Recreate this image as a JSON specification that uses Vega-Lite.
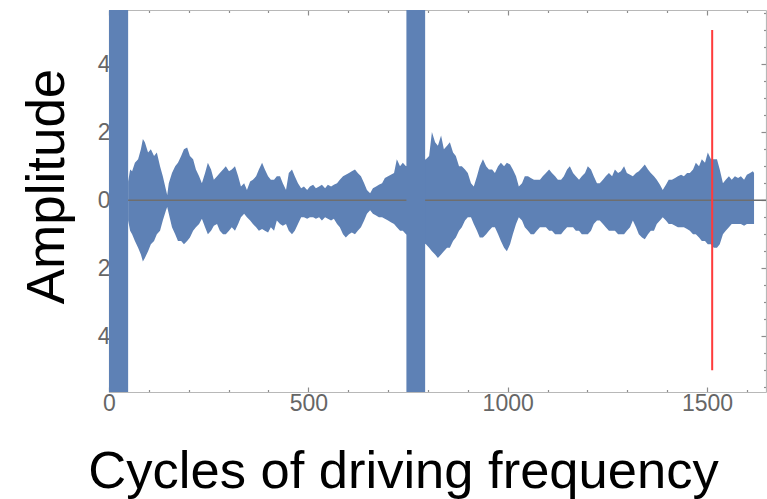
{
  "$schema": "https://vega.github.io/schema/vega-lite/v6.json",
  "width": 657,
  "height": 382,
  "autosize": "none",
  "padding": {"left": 109, "top": 10, "right": 1, "bottom": 107},
  "background": "white",
  "config": {
    "view": {"stroke": null},
    "axis": {"grid": false, "zindex": 1, "domainColor": "#b8b8b8", "domainWidth": 1.2, "tickColor": "#8c8c8c", "tickWidth": 1.2, "labelFont": "Liberation Sans", "titleFont": "Liberation Sans", "labelColor": "#666666", "labelFontSize": 23, "titleColor": "#000000", "titleFontWeight": "normal"}
  },
  "datasets": {
    "signal": [
      {"x":48,"hi":0.055,"lo":-0.06},{"x":53,"hi":0.09,"lo":-0.09},{"x":58,"hi":0.085,"lo":-0.10},{"x":65,"hi":0.11,"lo":-0.12},{"x":73,"hi":0.12,"lo":-0.14},{"x":80,"hi":0.15,"lo":-0.16},{"x":85,"hi":0.18,"lo":-0.18},{"x":90,"hi":0.17,"lo":-0.17},{"x":98,"hi":0.14,"lo":-0.15},{"x":105,"hi":0.15,"lo":-0.13},{"x":113,"hi":0.13,"lo":-0.12},{"x":120,"hi":0.14,"lo":-0.10},{"x":128,"hi":0.10,"lo":-0.09},{"x":135,"hi":0.07,"lo":-0.06},{"x":143,"hi":0.03,"lo":-0.03},{"x":146,"hi":0.015,"lo":-0.02},{"x":150,"hi":0.05,"lo":-0.04},{"x":158,"hi":0.08,"lo":-0.08},{"x":166,"hi":0.10,"lo":-0.10},{"x":173,"hi":0.11,"lo":-0.12},{"x":181,"hi":0.13,"lo":-0.12},{"x":188,"hi":0.15,"lo":-0.13},{"x":196,"hi":0.155,"lo":-0.12},{"x":203,"hi":0.13,"lo":-0.11},{"x":211,"hi":0.12,"lo":-0.09},{"x":218,"hi":0.09,"lo":-0.08},{"x":226,"hi":0.07,"lo":-0.07},{"x":233,"hi":0.05,"lo":-0.055},{"x":241,"hi":0.08,"lo":-0.08},{"x":248,"hi":0.11,"lo":-0.10},{"x":256,"hi":0.09,"lo":-0.09},{"x":263,"hi":0.06,"lo":-0.075},{"x":271,"hi":0.07,"lo":-0.07},{"x":278,"hi":0.08,"lo":-0.09},{"x":286,"hi":0.09,"lo":-0.10},{"x":293,"hi":0.10,"lo":-0.10},{"x":301,"hi":0.085,"lo":-0.09},{"x":308,"hi":0.09,"lo":-0.08},{"x":316,"hi":0.10,"lo":-0.09},{"x":324,"hi":0.07,"lo":-0.07},{"x":331,"hi":0.04,"lo":-0.05},{"x":339,"hi":0.05,"lo":-0.04},{"x":346,"hi":0.03,"lo":-0.05},{"x":354,"hi":0.055,"lo":-0.06},{"x":361,"hi":0.06,"lo":-0.07},{"x":369,"hi":0.07,"lo":-0.08},{"x":376,"hi":0.09,"lo":-0.09},{"x":384,"hi":0.11,"lo":-0.085},{"x":391,"hi":0.09,"lo":-0.09},{"x":399,"hi":0.07,"lo":-0.095},{"x":406,"hi":0.06,"lo":-0.08},{"x":414,"hi":0.06,"lo":-0.09},{"x":421,"hi":0.07,"lo":-0.06},{"x":429,"hi":0.07,"lo":-0.07},{"x":436,"hi":0.05,"lo":-0.075},{"x":444,"hi":0.03,"lo":-0.07},{"x":451,"hi":0.08,"lo":-0.09},{"x":459,"hi":0.09,"lo":-0.10},{"x":466,"hi":0.07,"lo":-0.09},{"x":474,"hi":0.05,"lo":-0.07},{"x":482,"hi":0.035,"lo":-0.05},{"x":489,"hi":0.04,"lo":-0.05},{"x":497,"hi":0.03,"lo":-0.055},{"x":504,"hi":0.04,"lo":-0.05},{"x":512,"hi":0.045,"lo":-0.05},{"x":519,"hi":0.035,"lo":-0.055},{"x":527,"hi":0.04,"lo":-0.05},{"x":534,"hi":0.045,"lo":-0.06},{"x":542,"hi":0.035,"lo":-0.05},{"x":549,"hi":0.045,"lo":-0.055},{"x":557,"hi":0.04,"lo":-0.06},{"x":564,"hi":0.045,"lo":-0.055},{"x":572,"hi":0.05,"lo":-0.07},{"x":579,"hi":0.06,"lo":-0.08},{"x":587,"hi":0.07,"lo":-0.10},{"x":594,"hi":0.075,"lo":-0.11},{"x":602,"hi":0.08,"lo":-0.10},{"x":609,"hi":0.085,"lo":-0.095},{"x":617,"hi":0.09,"lo":-0.10},{"x":624,"hi":0.08,"lo":-0.09},{"x":632,"hi":0.07,"lo":-0.08},{"x":640,"hi":0.05,"lo":-0.06},{"x":647,"hi":0.03,"lo":-0.04},{"x":655,"hi":0.02,"lo":-0.03},{"x":662,"hi":0.035,"lo":-0.04},{"x":670,"hi":0.04,"lo":-0.045},{"x":677,"hi":0.045,"lo":-0.05},{"x":685,"hi":0.05,"lo":-0.05},{"x":692,"hi":0.065,"lo":-0.055},{"x":700,"hi":0.07,"lo":-0.06},{"x":707,"hi":0.075,"lo":-0.065},{"x":715,"hi":0.08,"lo":-0.07},{"x":722,"hi":0.12,"lo":-0.08},{"x":730,"hi":0.10,"lo":-0.09},{"x":737,"hi":0.11,"lo":-0.09},{"x":745,"hi":0.10,"lo":-0.10},
      {"x":795,"hi":0.12,"lo":-0.13},{"x":803,"hi":0.13,"lo":-0.14},{"x":810,"hi":0.20,"lo":-0.15},{"x":818,"hi":0.17,"lo":-0.16},{"x":825,"hi":0.16,"lo":-0.17},{"x":833,"hi":0.19,"lo":-0.16},{"x":840,"hi":0.15,"lo":-0.15},{"x":848,"hi":0.16,"lo":-0.14},{"x":855,"hi":0.17,"lo":-0.14},{"x":863,"hi":0.14,"lo":-0.12},{"x":870,"hi":0.13,"lo":-0.11},{"x":878,"hi":0.10,"lo":-0.09},{"x":885,"hi":0.10,"lo":-0.08},{"x":893,"hi":0.09,"lo":-0.06},{"x":900,"hi":0.08,"lo":-0.05},{"x":908,"hi":0.05,"lo":-0.05},{"x":915,"hi":0.04,"lo":-0.07},{"x":923,"hi":0.07,"lo":-0.09},{"x":930,"hi":0.10,"lo":-0.11},{"x":938,"hi":0.12,"lo":-0.11},{"x":946,"hi":0.10,"lo":-0.10},{"x":953,"hi":0.09,"lo":-0.09},{"x":961,"hi":0.09,"lo":-0.08},{"x":968,"hi":0.08,"lo":-0.08},{"x":976,"hi":0.10,"lo":-0.10},{"x":983,"hi":0.11,"lo":-0.12},{"x":991,"hi":0.10,"lo":-0.14},{"x":998,"hi":0.11,"lo":-0.15},{"x":1006,"hi":0.105,"lo":-0.13},{"x":1013,"hi":0.09,"lo":-0.10},{"x":1021,"hi":0.07,"lo":-0.07},{"x":1028,"hi":0.04,"lo":-0.05},{"x":1036,"hi":0.05,"lo":-0.06},{"x":1043,"hi":0.07,"lo":-0.08},{"x":1051,"hi":0.07,"lo":-0.09},{"x":1058,"hi":0.065,"lo":-0.10},{"x":1066,"hi":0.06,"lo":-0.10},{"x":1073,"hi":0.06,"lo":-0.09},{"x":1081,"hi":0.06,"lo":-0.08},{"x":1088,"hi":0.07,"lo":-0.08},{"x":1096,"hi":0.08,"lo":-0.08},{"x":1104,"hi":0.09,"lo":-0.09},{"x":1111,"hi":0.08,"lo":-0.09},{"x":1119,"hi":0.07,"lo":-0.10},{"x":1126,"hi":0.06,"lo":-0.10},{"x":1134,"hi":0.06,"lo":-0.10},{"x":1141,"hi":0.07,"lo":-0.09},{"x":1149,"hi":0.09,"lo":-0.08},{"x":1156,"hi":0.10,"lo":-0.08},{"x":1164,"hi":0.08,"lo":-0.08},{"x":1171,"hi":0.07,"lo":-0.09},{"x":1179,"hi":0.06,"lo":-0.09},{"x":1186,"hi":0.07,"lo":-0.10},{"x":1194,"hi":0.08,"lo":-0.10},{"x":1201,"hi":0.10,"lo":-0.10},{"x":1209,"hi":0.09,"lo":-0.09},{"x":1216,"hi":0.07,"lo":-0.07},{"x":1224,"hi":0.05,"lo":-0.06},{"x":1231,"hi":0.05,"lo":-0.06},{"x":1239,"hi":0.06,"lo":-0.07},{"x":1246,"hi":0.07,"lo":-0.08},{"x":1254,"hi":0.08,"lo":-0.09},{"x":1262,"hi":0.07,"lo":-0.09},{"x":1269,"hi":0.09,"lo":-0.09},{"x":1277,"hi":0.08,"lo":-0.10},{"x":1284,"hi":0.085,"lo":-0.10},{"x":1292,"hi":0.10,"lo":-0.10},{"x":1299,"hi":0.08,"lo":-0.09},{"x":1307,"hi":0.075,"lo":-0.08},{"x":1314,"hi":0.07,"lo":-0.06},{"x":1322,"hi":0.08,"lo":-0.08},{"x":1329,"hi":0.085,"lo":-0.10},{"x":1337,"hi":0.095,"lo":-0.11},{"x":1344,"hi":0.105,"lo":-0.115},{"x":1352,"hi":0.09,"lo":-0.10},{"x":1359,"hi":0.08,"lo":-0.09},{"x":1367,"hi":0.07,"lo":-0.09},{"x":1374,"hi":0.06,"lo":-0.07},{"x":1382,"hi":0.045,"lo":-0.06},{"x":1389,"hi":0.03,"lo":-0.05},{"x":1397,"hi":0.045,"lo":-0.06},{"x":1404,"hi":0.06,"lo":-0.07},{"x":1412,"hi":0.06,"lo":-0.07},{"x":1420,"hi":0.065,"lo":-0.075},{"x":1427,"hi":0.07,"lo":-0.08},{"x":1435,"hi":0.075,"lo":-0.08},{"x":1442,"hi":0.07,"lo":-0.08},{"x":1450,"hi":0.08,"lo":-0.085},{"x":1457,"hi":0.08,"lo":-0.09},{"x":1465,"hi":0.09,"lo":-0.10},{"x":1472,"hi":0.11,"lo":-0.10},{"x":1480,"hi":0.10,"lo":-0.11},{"x":1487,"hi":0.12,"lo":-0.12},{"x":1495,"hi":0.11,"lo":-0.12},{"x":1502,"hi":0.14,"lo":-0.13},{"x":1510,"hi":0.12,"lo":-0.13},{"x":1517,"hi":0.12,"lo":-0.14},{"x":1525,"hi":0.12,"lo":-0.14},{"x":1532,"hi":0.09,"lo":-0.13},{"x":1540,"hi":0.05,"lo":-0.10},{"x":1547,"hi":0.06,"lo":-0.09},{"x":1555,"hi":0.07,"lo":-0.08},{"x":1562,"hi":0.06,"lo":-0.07},{"x":1570,"hi":0.07,"lo":-0.07},{"x":1578,"hi":0.065,"lo":-0.07},{"x":1585,"hi":0.07,"lo":-0.07},{"x":1593,"hi":0.06,"lo":-0.075},{"x":1600,"hi":0.075,"lo":-0.07},{"x":1608,"hi":0.08,"lo":-0.07},{"x":1615,"hi":0.085,"lo":-0.07},{"x":1618,"hi":0.08,"lo":-0.07}
    ],
    "bands": [{"start": 0, "end": 48}, {"start": 746, "end": 793}],
    "zeroline": [{"level": 0}],
    "marker": [{"x": 1513, "lo": -0.5, "hi": 0.5}]
  },
  "resolve": {"axis": {"x": "independent", "y": "independent"}},
  "layer": [
    {
      "data": {"name": "signal"},
      "mark": {"type": "area", "color": "#5e81b5", "interpolate": "linear"},
      "encoding": {
        "x": {"field": "x", "type": "quantitative", "scale": {"domain": [0, 1648], "nice": false, "zero": false},
          "axis": {"orient": "bottom", "values": [0,100,200,300,400,500,600,700,800,900,1000,1100,1200,1300,1400,1500,1600],
            "tickSize": {"condition": {"test": "datum.value % 500 === 0", "value": -5}, "value": -2.5},
            "labelExpr": "datum.value % 500 === 0 ? format(datum.value, 'd') : ''", "labelPadding": 5, "labelFlush": false, "labelOverlap": false,
            "title": "Cycles of driving frequency", "titleFontSize": 52.5, "titleX": 294, "titleY": 95, "titleAlign": "center", "titleBaseline": "alphabetic"}},
        "y": {"field": "hi", "type": "quantitative", "scale": {"domain": [-0.564, 0.559], "nice": false, "zero": false},
          "axis": {"orient": "left", "values": [-0.55,-0.5,-0.45,-0.4,-0.35,-0.3,-0.25,-0.2,-0.15,-0.1,-0.05,0,0.05,0.1,0.15,0.2,0.25,0.3,0.35,0.4,0.45,0.5,0.55],
            "tickSize": {"condition": {"test": "abs(round(datum.value*100)) % 20 === 0", "value": -5}, "value": -2.5},
            "labelExpr": "abs(round(datum.value*100)) % 20 === 0 ? (datum.value === 0 ? '0' : format(abs(datum.value)*10, 'd')) : ''", "labelPadding": 4, "labelFlush": false, "labelOverlap": false,
            "title": "Amplitude", "titleFontSize": 53, "titleX": -46, "titleY": 176, "titleAngle": 270, "titleAlign": "center", "titleBaseline": "alphabetic"}},
        "y2": {"field": "lo"}
      }
    },
    {
      "data": {"name": "zeroline"},
      "mark": {"type": "rule", "color": "#6e6e6e", "strokeWidth": 1.5},
      "encoding": {"y": {"field": "level", "type": "quantitative", "scale": {"domain": [-0.564, 0.559], "nice": false, "zero": false}, "axis": null}}
    },
    {
      "data": {"name": "bands"},
      "mark": {"type": "rect", "color": "#5e81b5"},
      "encoding": {
        "x": {"field": "start", "type": "quantitative", "axis": null},
        "x2": {"field": "end"}
      }
    },
    {
      "data": {"name": "marker"},
      "mark": {"type": "rule", "color": "#ff3b3b", "strokeWidth": 2},
      "encoding": {
        "x": {"field": "x", "type": "quantitative",
          "axis": {"orient": "top", "values": [0,100,200,300,400,500,600,700,800,900,1000,1100,1200,1300,1400,1500,1600],
            "tickSize": {"condition": {"test": "datum.value % 500 === 0", "value": -5}, "value": -2.5},
            "labels": false, "title": null}},
        "y": {"field": "lo", "type": "quantitative",
          "axis": {"orient": "right", "values": [-0.55,-0.5,-0.45,-0.4,-0.35,-0.3,-0.25,-0.2,-0.15,-0.1,-0.05,0,0.05,0.1,0.15,0.2,0.25,0.3,0.35,0.4,0.45,0.5,0.55],
            "tickSize": {"condition": {"test": "abs(round(datum.value*100)) % 20 === 0", "value": -5}, "value": -2.5},
            "labels": false, "title": null}},
        "y2": {"field": "hi"}
      }
    }
  ]
}
